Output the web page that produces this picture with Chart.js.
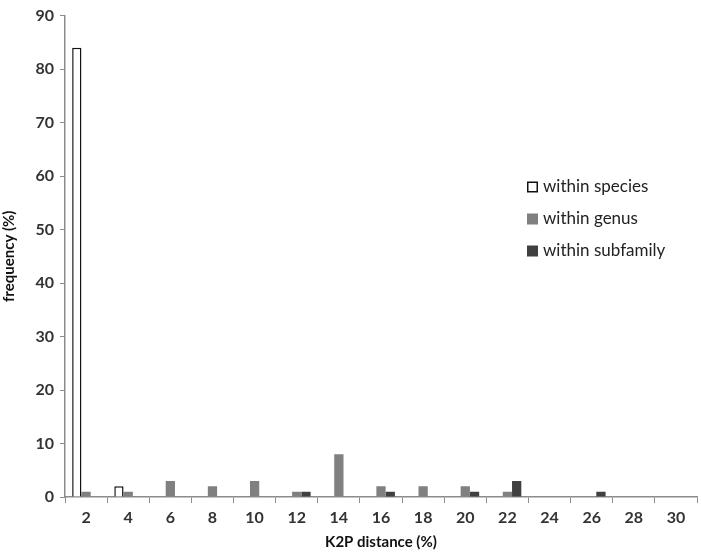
<!DOCTYPE html>
<html>
<head>
<meta charset="utf-8">
<script src="https://cdn.jsdelivr.net/npm/chart.js@4/dist/chart.umd.min.js"></script>
<style>
  html, body { margin: 0; padding: 0; background: #fff; }
  #wrap { position: relative; width: 701px; height: 555px; }
</style>
</head>
<body>
<div id="wrap"><canvas id="myChart" width="701" height="555"></canvas></div>
<script>
// K2P distance classes (%)
const distances = ['2', '4', '6', '8', '10', '12', '14', '16', '18', '20', '22', '24', '26', '28', '30'];
// frequency (%) per series
const withinSpecies = [84, 2, 0, 0, 0, 0, 0, 0, 0, 0, 0, 0, 0, 0, 0];
const withinGenus = [1, 1, 3, 2, 3, 1, 8, 2, 2, 2, 1, 0, 0, 0, 0];
const withinSubfamily = [0, 0, 0, 0, 0, 1, 0, 1, 0, 1, 3, 0, 1, 0, 0];
const yTicks = [0, 10, 20, 30, 40, 50, 60, 70, 80, 90];

const fontFamily = 'Lato, "Open Sans", sans-serif';
const axisGray = '#8c8c8c';

// legend drawn inside the plot, at the right
const sideLegend = {
    id: 'sideLegend',
    afterDraw(chart) {
        const ctx = chart.ctx;
        const x = 527, y0 = 187, step = 32;
        ctx.save();
        ctx.font = '17px ' + fontFamily;
        ctx.textBaseline = 'middle';
        chart.data.datasets.forEach((ds, i) => {
            const y = y0 + i * step;
            ctx.fillStyle = ds.backgroundColor;
            ctx.fillRect(x, y - 5.5, 11, 11);
            if (ds.borderWidth) {
                ctx.strokeStyle = ds.borderColor;
                ctx.lineWidth = 1.5;
                ctx.strokeRect(x + 0.75, y - 4.75, 9.5, 9.5);
            }
            ctx.fillStyle = '#222';
            ctx.fillText(ds.label, x + 16, y);
        });
        ctx.restore();
    }
};

const data = {
    labels: distances,
    datasets: [
        {
            label: 'within species',
            data: withinSpecies,
            backgroundColor: '#ffffff',
            borderColor: '#111111',
            borderWidth: 1.5,
            borderSkipped: 'bottom',
        },
        {
            label: 'within genus',
            data: withinGenus,
            backgroundColor: '#808080',
            borderWidth: 0,
        },
        {
            label: 'within subfamily',
            data: withinSubfamily,
            backgroundColor: '#404040',
            borderWidth: 0,
        },
    ],
};

const config = {
    type: 'bar',
    data: data,
    plugins: [sideLegend],
    options: {
        responsive: false,
        animation: false,
        layout: { padding: { top: 7, right: 4, bottom: 4, left: 0 } },
        datasets: { bar: { categoryPercentage: 0.66, barPercentage: 1.0 } },
        plugins: {
            legend: { display: false },
            tooltip: { enabled: false },
        },
        scales: {
            x: {
                grid: {
                    display: true,
                    offset: true,
                    drawOnChartArea: false,
                    drawTicks: true,
                    tickLength: 6,
                    color: axisGray,
                },
                border: { color: axisGray, width: 1.5 },
                ticks: {
                    color: '#333',
                    font: { family: fontFamily, size: 16, weight: 'bold' },
                    maxRotation: 0,
                    padding: 5,
                },
                title: {
                    display: true,
                    text: 'K2P distance (%)',
                    color: '#111',
                    font: { family: fontFamily, size: 15, weight: 'bold' },
                    padding: { top: 5, bottom: 0 },
                },
                afterFit(scale) { scale.height = 54; },
            },
            y: {
                min: 0,
                max: 90,
                afterBuildTicks(scale) { scale.ticks = yTicks.map(v => ({ value: v })); },
                grid: {
                    display: true,
                    drawOnChartArea: false,
                    drawTicks: true,
                    tickLength: 5,
                    color: axisGray,
                },
                border: { color: axisGray, width: 1.5 },
                ticks: {
                    color: '#333',
                    font: { family: fontFamily, size: 16, weight: 'bold' },
                    padding: 6,
                },
                title: {
                    display: true,
                    text: 'frequency (%)',
                    color: '#111',
                    font: { family: fontFamily, size: 15, weight: 'bold' },
                    padding: { top: 0, bottom: 2 },
                },
                afterFit(scale) { scale.width = 65; },
            },
        },
    },
};

new Chart(document.getElementById('myChart'), config);
</script>
</body>
</html>
